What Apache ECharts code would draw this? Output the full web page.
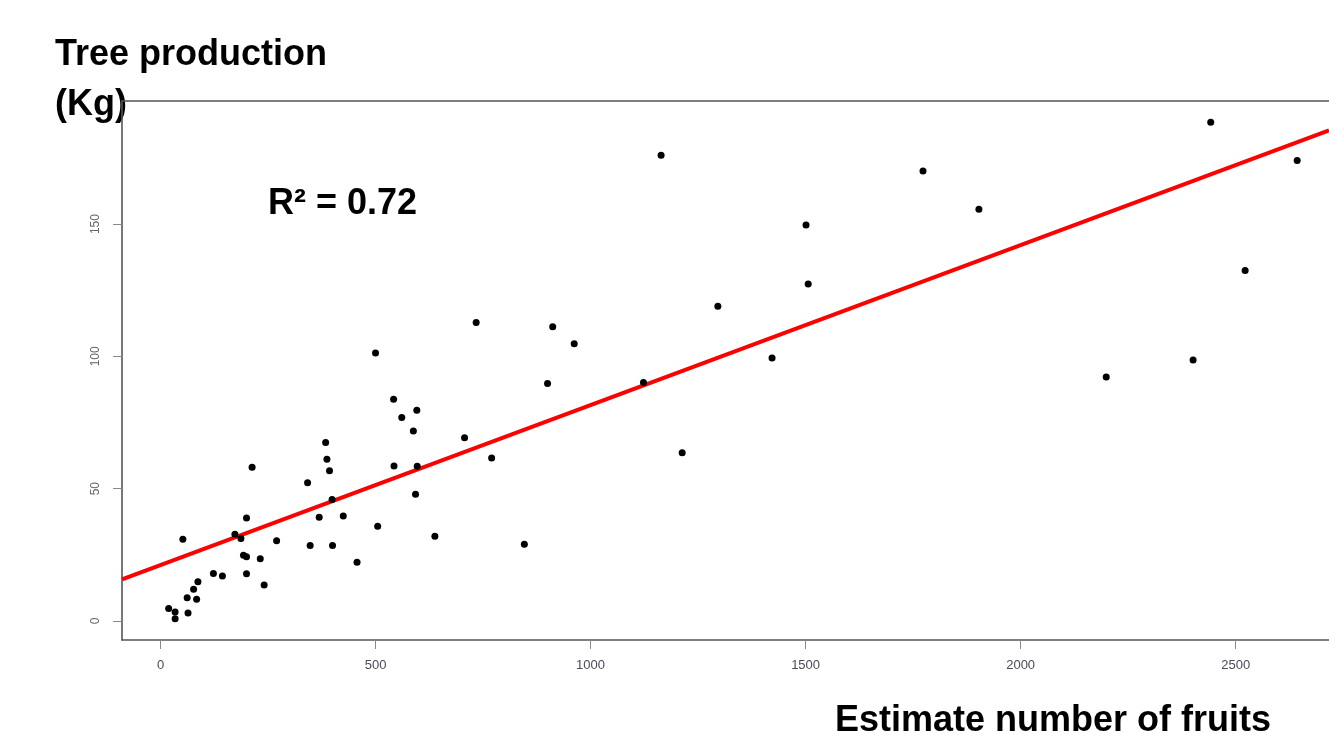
<!DOCTYPE html>
<html>
<head>
<meta charset="utf-8">
<script src="https://cdn.jsdelivr.net/npm/echarts@6/dist/echarts.min.js"></script>
<style>
html,body{margin:0;padding:0;background:#fff;}
#chart{width:1329px;height:734px;}
</style>
</head>
<body>
<div id="chart"></div>
<script>
// Estimated number of fruits per tree (x) and tree production in Kg (y)
const fruits = [1164, 2442, 2643, 1773, 1903, 1501, 1506, 2522, 1296, 734,
  912, 962, 500, 1422, 2401, 2199, 1123, 900, 542, 596,
  561, 588, 707, 384, 387, 393, 770, 1213, 213, 543,
  597, 342, 399, 593, 200, 369, 425, 505, 173, 187,
  270, 52, 348, 400, 638, 846, 193, 200, 232, 457,
  123, 144, 200, 241, 87, 77, 62, 84, 19, 34,
  34, 64];
const production = [176.0, 188.5, 174.0, 170.0, 155.6, 149.6, 127.3, 132.4, 118.9, 112.8,
  111.2, 104.8, 101.3, 99.4, 98.6, 92.2, 90.1, 89.7, 83.8, 79.6,
  76.9, 71.8, 69.2, 67.4, 61.1, 56.8, 61.6, 63.6, 58.1, 58.6,
  58.5, 52.2, 45.9, 47.9, 38.9, 39.2, 39.7, 35.8, 32.8, 31.2,
  30.3, 30.9, 28.5, 28.5, 32.0, 29.0, 24.8, 24.3, 23.5, 22.2,
  17.9, 17.0, 17.8, 13.6, 14.8, 12.0, 8.8, 8.2, 4.7, 3.4,
  0.8, 3.0];
// fitted regression line end points
const fitX = [-89.5, 2717];
const fitY = [15.7, 185.4];
const xTicks = [0, 500, 1000, 1500, 2000, 2500];
const yTicks = [0, 50, 100, 150];
const xRange = [-89.5, 2717];
const yRange = [-7.2, 196.5];
const r2Text = 'R\u00B2 = 0.72';
const yTitle1 = 'Tree production';
const yTitle2 = '(Kg)';
const xTitle = 'Estimate number of fruits';

const points = fruits.map((x, i) => [x, production[i]]);
const fitLine = fitX.map((x, i) => [x, fitY[i]]);
const FONT = '"Liberation Sans", Arial, Helvetica, sans-serif';
const frameLine = {show: true, onZero: false, lineStyle: {color: '#555', width: 1.6}};

const chart = echarts.init(document.getElementById('chart'), null, {renderer: 'canvas'});
chart.setOption({
  animation: false,
  backgroundColor: '#ffffff',
  grid: {left: 122, top: 101, right: 0, bottom: 94, show: false},
  xAxis: [{
    type: 'value', min: xRange[0], max: xRange[1], position: 'bottom',
    axisLine: frameLine,
    splitLine: {show: false},
    axisTick: {show: true, customValues: xTicks, length: 9, lineStyle: {color: '#888', width: 1}},
    axisLabel: {show: true, customValues: xTicks, margin: 19, color: '#4a4a5a',
      fontFamily: FONT, fontSize: 13, formatter: v => String(v)}
  }, {
    type: 'value', min: xRange[0], max: xRange[1], position: 'top',
    axisLine: frameLine,
    splitLine: {show: false}, axisTick: {show: false}, axisLabel: {show: false}
  }],
  yAxis: {
    type: 'value', min: yRange[0], max: yRange[1],
    axisLine: frameLine,
    splitLine: {show: false},
    axisTick: {show: true, customValues: yTicks, length: 9, lineStyle: {color: '#888', width: 1}},
    axisLabel: {show: true, customValues: yTicks, rotate: 90, margin: 20, color: '#666',
      fontFamily: FONT, fontSize: 12, formatter: v => String(v)}
  },
  series: [
    {
      type: 'scatter', data: points, symbol: 'circle', symbolSize: 7,
      itemStyle: {color: '#000', opacity: 1}, z: 3
    },
    {
      type: 'line', data: fitLine, showSymbol: false, symbol: 'none',
      lineStyle: {color: '#ff0000', width: 4}, z: 2, clip: true
    }
  ],
  graphic: [
    {type: 'text', left: 55, top: 37, style: {text: yTitle1, fill: '#000',
      font: 'bold 36px ' + FONT}},
    {type: 'text', left: 55, top: 87, style: {text: yTitle2, fill: '#000',
      font: 'bold 36px ' + FONT}},
    {type: 'text', left: 268, top: 186, style: {text: r2Text, fill: '#000',
      font: 'bold 36px ' + FONT}},
    {type: 'text', left: 835, top: 703, style: {text: xTitle, fill: '#000',
      font: 'bold 36px ' + FONT}}
  ]
});
</script>
</body>
</html>
